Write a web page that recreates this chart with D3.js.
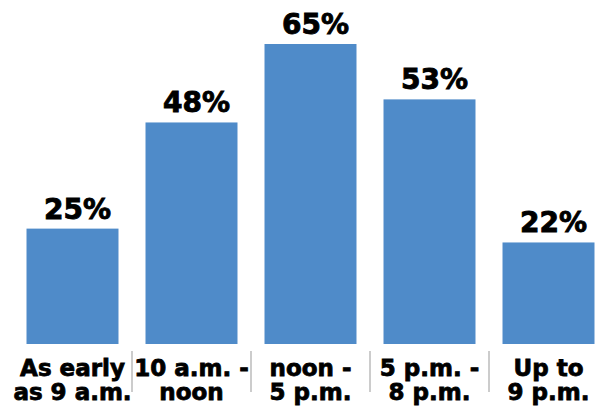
<!DOCTYPE html>
<html>
<head>
<meta charset="utf-8">
<script src="https://cdn.jsdelivr.net/npm/d3@7"></script>
<style>
  html, body { margin: 0; padding: 0; background: #fff; }
  svg { display: block; font-family: "DejaVu Sans", sans-serif; font-weight: bold; }
</style>
</head>
<body>
<main></main>
<script>
(function(){

  // DATA
  const categories = ["As early|as 9 a.m.", "10 a.m. -|noon", "noon -|5 p.m.", "5 p.m. -|8 p.m.", "Up to|9 p.m."],
  values = [25, 48, 65, 53, 22],
  valueLabels = ["25%", "48%", "65%", "53%", "22%"];

  const w = 597,
  h = 409,
  baseY = 344,
  topY = 44;

  const svg = d3.select("main")
    .append("svg")
    .attr("width", w)
    .attr("height", h);

  const x = d3.scaleBand()
    .domain(categories)
    .range([13, 608])
    .paddingInner(0.227)
    .paddingOuter(0.1135);

  const y = d3.scaleLinear()
    .domain([0, d3.max(values)])
    .range([baseY, topY]);

  const rows = categories.map((c, i) => ({ cat: c, val: values[i], label: valueLabels[i] }));

  // BARS
  svg.selectAll("rect.bar")
    .data(rows)
    .enter()
    .append("rect")
    .attr("class", "bar")
    .attr("x", d => x(d.cat))
    .attr("y", d => y(d.val))
    .attr("width", x.bandwidth())
    .attr("height", d => y(0) - y(d.val))
    .attr("fill", "#4f8bc9");

  // VALUE LABELS
  svg.selectAll("text.value")
    .data(rows)
    .enter()
    .append("text")
    .attr("class", "value")
    .attr("x", d => x(d.cat) + x.bandwidth() / 2 + 5)
    .attr("y", d => y(d.val) - 10)
    .attr("text-anchor", "middle")
    .attr("font-size", 28)
    .attr("fill", "#000")
    .attr("stroke", "#000")
    .attr("stroke-width", 0.9)
    .text(d => d.label);

  // CATEGORY SEPARATORS (between bands)
  const gap = x.step() - x.bandwidth();
  svg.selectAll("line.sep")
    .data(categories.slice(1))
    .enter()
    .append("line")
    .attr("class", "sep")
    .attr("x1", d => x(d) - gap / 2)
    .attr("x2", d => x(d) - gap / 2)
    .attr("y1", 351)
    .attr("y2", 392)
    .attr("stroke", "#cccccc")
    .attr("stroke-width", 2);

  // CATEGORY LABELS (one text per line)
  const catG = svg.selectAll("g.cat")
    .data(categories)
    .enter()
    .append("g")
    .attr("class", "cat")
    .attr("transform", d => "translate(" + (x(d) + x.bandwidth() / 2) + ",376)");

  catG.selectAll("text")
    .data(d => d.split("|"))
    .enter()
    .append("text")
    .attr("y", (d, i) => i * 24)
    .attr("text-anchor", "middle")
    .attr("font-size", 23)
    .attr("fill", "#000")
    .attr("stroke", "#000")
    .attr("stroke-width", 0.8)
    .text(d => d);

})()
</script>
</body>
</html>
